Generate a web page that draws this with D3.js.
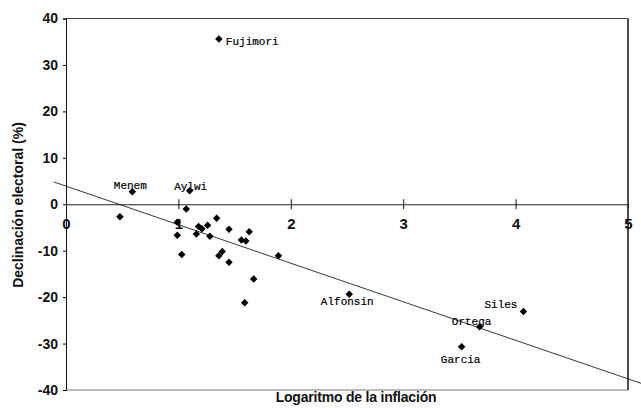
<!DOCTYPE html>
<html>
<head>
<meta charset="utf-8">
<script src="https://cdn.jsdelivr.net/npm/d3@7"></script>
<style>
  body { margin: 0; background: #fff; }
  text { font-family: "Liberation Sans", Arial, sans-serif; }
</style>
</head>
<body>
<div id="chart"></div>
<script>
// logaritmo de la inflacion (x) y declinacion electoral en % (y)
let logInflacion = [1.36, 0.59, 1.10, 1.07, 0.48, 0.99, 0.99, 1.03, 1.16, 1.18, 1.21, 1.26, 1.28, 1.34,
    1.36, 1.39, 1.45, 1.45, 1.56, 1.60, 1.63, 1.67, 1.59, 1.89, 2.52, 4.07, 3.68, 3.52];
let declinacion = [35.6, 2.7, 2.9, -1.0, -2.7, -3.9, -6.7, -10.8, -6.4, -4.8, -5.3, -4.5, -6.9, -3.0,
    -11.1, -10.2, -5.4, -12.5, -7.7, -7.9, -5.9, -16.1, -21.2, -11.1, -19.4, -23.1, -26.4, -30.7];
let presidentes = ["Fujimori", "Menem", "Aylwi", "", "", "", "", "", "", "", "", "", "", "",
    "", "", "", "", "", "", "", "", "", "", "Alfonsin", "Siles", "Ortega", "Garcia"];

let xTicks = [0, 1, 2, 3, 4, 5];
let yTicks = [-40, -30, -20, -10, 0, 10, 20, 30, 40];

// recta de regresion
let intercepto = 3.9;
let pendiente = -8.3;
let rectaX = [-0.11, 5.13];

// posicion de las etiquetas respecto al punto
let etiquetaPos = {
    "Fujimori": {dx: 7, dy: 6, anchor: "start"},
    "Menem": {dx: -2, dy: -3, anchor: "middle"},
    "Aylwi": {dx: 1, dy: -1, anchor: "middle"},
    "Alfonsin": {dx: -2, dy: 11, anchor: "middle"},
    "Siles": {dx: -6, dy: -4, anchor: "end"},
    "Ortega": {dx: -8, dy: -2, anchor: "middle"},
    "Garcia": {dx: -1, dy: 16, anchor: "middle"}
};

let width = 641;
let height = 408;
let margin = {top: 18.5, right: 13, bottom: 18, left: 66};

let svg = d3.select("#chart")
    .append("svg")
    .attr("width", width)
    .attr("height", height);

let x = d3.scaleLinear().domain([0, 5]).range([margin.left, width - margin.right]);
let y = d3.scaleLinear().domain([-40, 40]).range([height - margin.bottom, margin.top]);

let fmt = function (d) { return String(d); };

svg.append("clipPath").attr("id", "clip")
    .append("rect")
    .attr("x", 0).attr("y", 0)
    .attr("width", width).attr("height", y(-40));

// marco
svg.append("line")
    .attr("x1", x(0)).attr("x2", x(5))
    .attr("y1", y(40)).attr("y2", y(40))
    .attr("stroke", "#444").attr("stroke-width", 1);
svg.append("line")
    .attr("x1", x(0)).attr("x2", x(5))
    .attr("y1", y(-40)).attr("y2", y(-40))
    .attr("stroke", "#777").attr("stroke-width", 1);
svg.append("line")
    .attr("x1", x(5)).attr("x2", x(5))
    .attr("y1", y(40)).attr("y2", y(-40))
    .attr("stroke", "#111").attr("stroke-width", 1.5);

// eje y
let yAxis = svg.append("g")
    .attr("transform", "translate(" + x(0) + ",0)")
    .call(d3.axisLeft(y).tickValues(yTicks).tickFormat(fmt).tickSize(3).tickPadding(5));
yAxis.select(".domain").attr("stroke", "#111");
yAxis.selectAll("text")
    .attr("font-size", 14)
    .attr("font-weight", "bold")
    .attr("fill", "#111");

// eje x sobre el cero
let xAxis = svg.append("g")
    .attr("transform", "translate(0," + y(0) + ")")
    .call(d3.axisBottom(x).tickValues(xTicks).tickFormat(fmt).tickSize(4).tickPadding(10));
xAxis.select(".domain").attr("stroke", "#222");
xAxis.selectAll(".tick line")
    .attr("y1", -5)
    .attr("y2", 5)
    .attr("stroke", "#111");
xAxis.selectAll(".tick")
    .filter(function (d) { return d === 0 || d === 5; })
    .select("line").remove();
xAxis.selectAll("text")
    .attr("font-size", 15)
    .attr("font-weight", "bold")
    .attr("fill", "#111");

// recta
svg.append("line")
    .attr("clip-path", "url(#clip)")
    .attr("x1", x(rectaX[0]))
    .attr("y1", y(intercepto + pendiente * rectaX[0]))
    .attr("x2", x(rectaX[1]))
    .attr("y2", y(intercepto + pendiente * rectaX[1]))
    .attr("stroke", "#222")
    .attr("stroke-width", 0.9);

// puntos
let puntos = logInflacion.map(function (v, i) {
    return {x: v, y: declinacion[i], nombre: presidentes[i]};
});

let diamante = d3.symbol().type(d3.symbolSquare).size(28);

svg.selectAll(".punto")
    .data(puntos)
    .enter()
    .append("path")
    .attr("class", "punto")
    .attr("d", diamante)
    .attr("transform", function (d) {
        return "translate(" + x(d.x) + "," + y(d.y) + ") rotate(45)";
    })
    .attr("fill", "#000");

svg.selectAll(".etiqueta")
    .data(puntos.filter(function (d) { return d.nombre !== ""; }))
    .enter()
    .append("text")
    .attr("class", "etiqueta")
    .attr("x", function (d) { return x(d.x) + etiquetaPos[d.nombre].dx; })
    .attr("y", function (d) { return y(d.y) + etiquetaPos[d.nombre].dy; })
    .attr("text-anchor", function (d) { return etiquetaPos[d.nombre].anchor; })
    .style("font-family", "'Liberation Mono', 'Courier New', monospace")
    .attr("font-size", 11)
    .attr("fill", "#000")
    .attr("stroke", "#000")
    .attr("stroke-width", 0.2)
    .text(function (d) { return d.nombre; });

// titulos de ejes
svg.append("text")
    .attr("x", 356)
    .attr("y", 402)
    .attr("text-anchor", "middle")
    .attr("font-size", 14)
    .attr("font-weight", "bold")
    .attr("fill", "#111")
    .style("letter-spacing", "-0.2px")
    .text("Logaritmo de la inflación");

svg.append("text")
    .attr("transform", "translate(23," + 205 + ") rotate(-90)")
    .attr("text-anchor", "middle")
    .attr("font-size", 14)
    .attr("font-weight", "bold")
    .attr("fill", "#111")
    .text("Declinación electoral (%)");
</script>
</body>
</html>
